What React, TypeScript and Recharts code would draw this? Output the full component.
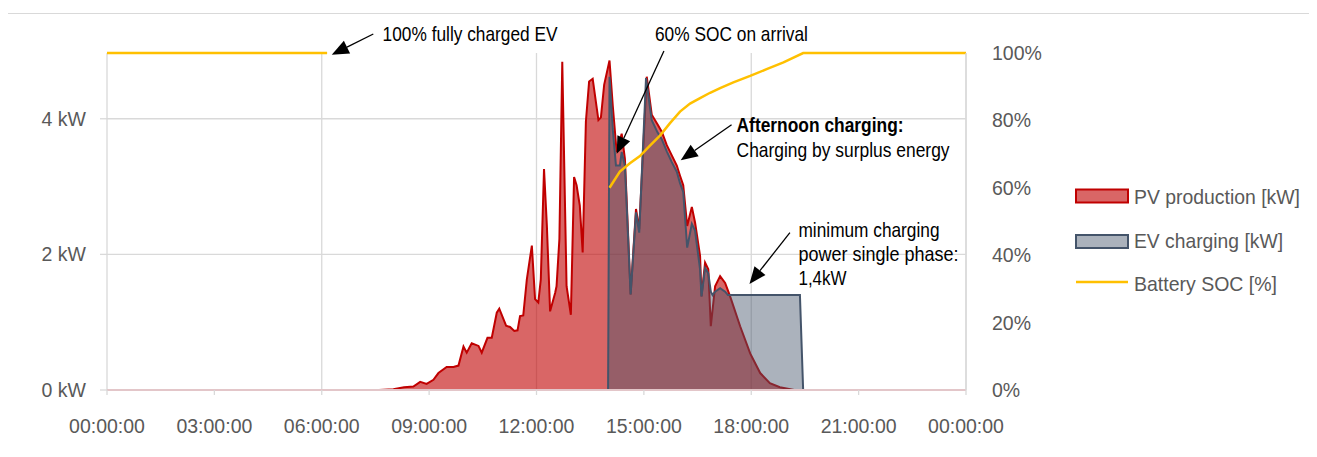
import React from 'react';
import {
  ComposedChart,
  Area,
  Line,
  XAxis,
  YAxis,
  CartesianGrid,
  ReferenceLine,
  ReferenceDot,
  Legend,
} from 'recharts';

// ---- data: [hour of day, value] ----
const pvProduction: [number, number][] = [
  [7.6, 0], [8.0, 0.01], [8.3, 0.04], [8.56, 0.05], [8.75, 0.12], [8.93, 0.09], [9.12, 0.15],
  [9.26, 0.25], [9.49, 0.34], [9.68, 0.34], [9.82, 0.36], [9.96, 0.64], [10.05, 0.55],
  [10.19, 0.69], [10.38, 0.65], [10.47, 0.55], [10.63, 0.77], [10.75, 0.77], [10.89, 1.14],
  [10.96, 1.2], [11.15, 0.95], [11.26, 0.93], [11.38, 0.87], [11.47, 0.88], [11.54, 1.09],
  [11.63, 1.1], [11.73, 1.63], [11.87, 2.13], [11.96, 1.34], [12.05, 1.29], [12.12, 1.63],
  [12.21, 3.26], [12.29, 2.42], [12.38, 1.16], [12.52, 1.43], [12.56, 1.53], [12.64, 2.23],
  [12.72, 4.84], [12.84, 1.53], [12.96, 1.11], [13.05, 3.14], [13.12, 3.02], [13.21, 2.72],
  [13.29, 2.03], [13.38, 3.96], [13.47, 4.55], [13.57, 4.59], [13.73, 3.98], [13.8, 4.02],
  [13.89, 4.5], [14.04, 4.86], [14.13, 4.2], [14.24, 3.51], [14.38, 3.78], [14.47, 3.41],
  [14.63, 1.41], [14.78, 2.67], [14.87, 2.37], [15.08, 4.62], [15.22, 4.06], [15.38, 3.92],
  [15.5, 3.81], [15.64, 3.61], [15.78, 3.46], [15.92, 3.31], [16.01, 3.16], [16.1, 3.02],
  [16.21, 2.42], [16.34, 2.7], [16.43, 2.47], [16.57, 1.98], [16.61, 1.38], [16.71, 1.88],
  [16.8, 1.78], [16.87, 0.94], [16.99, 1.53], [17.13, 1.68], [17.27, 1.58], [17.41, 1.38],
  [17.69, 0.94], [17.97, 0.54], [18.25, 0.25], [18.52, 0.1], [18.8, 0.04], [19.2, 0],
];

const evCharging: [number, number][] = [
  [14.0, 0], [14.04, 4.62], [14.13, 3.85], [14.22, 3.31], [14.33, 3.31], [14.38, 3.51],
  [14.47, 3.31], [14.63, 1.41], [14.78, 2.62], [14.87, 2.32], [15.06, 4.6], [15.22, 3.98],
  [15.38, 3.8], [15.5, 3.7], [15.64, 3.52], [15.78, 3.36], [15.92, 3.22], [16.01, 3.05],
  [16.1, 2.92], [16.21, 2.1], [16.34, 2.45], [16.43, 2.35], [16.57, 1.78], [16.61, 1.38],
  [16.71, 1.8], [16.8, 1.72], [16.87, 1.45], [16.92, 1.4], [16.99, 1.45], [17.13, 1.5],
  [17.27, 1.45], [17.35, 1.4], [19.36, 1.4], [19.45, 0],
];

const socMorning: [number, number][] = [[0, 1], [6.15, 1]];

const socAfternoon: [number, number][] = [
  [14.04, 0.6], [14.33, 0.648], [14.61, 0.673], [14.89, 0.694], [15.17, 0.725],
  [15.45, 0.755], [15.73, 0.792], [16.01, 0.826], [16.29, 0.85], [16.57, 0.866],
  [16.85, 0.882], [17.13, 0.896], [17.5, 0.913], [17.97, 0.932], [18.43, 0.952],
  [18.9, 0.972], [19.45, 1.0], [24, 1.0],
];

const hourTicks = [0, 3, 6, 9, 12, 15, 18, 21, 24];
const gridHours = [0, 6, 12, 18, 24];
const kwTicks = [0, 2, 4];
const socTicks = [0, 0.2, 0.4, 0.6, 0.8, 1];

const seriesNames = ['PV production [kW]', 'EV charging [kW]', 'Battery SOC [%]'];

// annotations (in data units: hour, kW)
const arrows = [
  { from: [7.44, 5.25], to: [6.28, 4.945] },
  { from: [15.56, 5.0], to: [14.24, 3.485] },
  { from: [17.45, 3.913], to: [16.03, 3.388] },
  { from: [19.08, 2.32], to: [17.95, 1.563] },
];

const notes = [
  { at: [7.7, 5.147], lines: [{ text: '100% fully charged EV', w: 175 }] },
  { at: [15.31, 5.143], lines: [{ text: '60% SOC on arrival', w: 153 }] },
  {
    at: [17.59, 3.8],
    lines: [
      { text: 'Afternoon charging:', w: 167, bold: true },
      { text: 'Charging by surplus energy', w: 213 },
    ],
  },
  {
    at: [19.32, 2.261],
    lines: [
      { text: 'minimum charging', w: 141 },
      { text: 'power single phase:', w: 160 },
      { text: '1,4kW', w: 48 },
    ],
  },
];

function buildTable() {
  const rows = new Map<number, any>();
  const add = (arr: [number, number][], key: string) =>
    arr.forEach(([t, v]) => {
      const r = rows.get(t) ?? { t };
      r[key] = v;
      rows.set(t, r);
    });
  add(pvProduction, 'pv');
  add(evCharging, 'ev');
  add(socMorning, 'socA');
  add(socAfternoon, 'socB');
  return [...rows.values()].sort((a, b) => a.t - b.t);
}

const table = buildTable();

const FONT = 'Liberation Sans, Arial, sans-serif';
const AXIS_TEXT = { fill: '#595959', fontSize: 19.5, fontFamily: FONT };
const GRID = '#D9D9D9';
const PV_COLOR = '#C00000';
const EV_COLOR = '#44546A';
const SOC_COLOR = '#FFC000';

const fmtHour = (h: number) => `${String(h % 24).padStart(2, '0')}:00:00`;
const fmtPct = (v: number) => `${Math.round(v * 100)}%`;

const ArrowShape = (p: any) => {
  const { x1, y1, x2, y2 } = p;
  const dx = x2 - x1;
  const dy = y2 - y1;
  const len = Math.hypot(dx, dy) || 1;
  const ux = dx / len;
  const uy = dy / len;
  const hl = 17;
  const hw = 7;
  const bx = x2 - ux * hl;
  const by = y2 - uy * hl;
  return (
    <g>
      <line x1={x1} y1={y1} x2={bx} y2={by} stroke="#000" strokeWidth={1.3} />
      <polygon
        points={`${x2},${y2} ${bx - uy * hw},${by + ux * hw} ${bx + uy * hw},${by - ux * hw}`}
        fill="#000"
      />
    </g>
  );
};

const makeNoteShape = (lines: { text: string; w: number; bold?: boolean }[]) => (p: any) => {
  const { cx, cy } = p;
  return (
    <g>
      {lines.map((l, i) => (
        <text
          key={i}
          x={cx}
          y={cy + i * 24.3}
          fontFamily={FONT}
          fontSize={21}
          fontWeight={l.bold ? 'bold' : 'normal'}
          fill="#000"
          textLength={l.w}
          lengthAdjust="spacingAndGlyphs"
        >
          {l.text}
        </text>
      ))}
    </g>
  );
};

const LegendContent = () => (
  <svg width={250} height={130} style={{ display: 'block', overflow: 'visible' }}>
    <rect x={8} y={11.5} width={52} height={13} fill={PV_COLOR} fillOpacity={0.6} stroke={PV_COLOR} strokeWidth={2} />
    <text x={66} y={26} fontFamily={FONT} fontSize={21} fill="#595959" textLength={166} lengthAdjust="spacingAndGlyphs">
      {seriesNames[0]}
    </text>
    <rect x={8} y={57} width={52} height={13} fill={EV_COLOR} fillOpacity={0.45} stroke={EV_COLOR} strokeWidth={2} />
    <text x={66} y={70.3} fontFamily={FONT} fontSize={21} fill="#595959" textLength={149} lengthAdjust="spacingAndGlyphs">
      {seriesNames[1]}
    </text>
    <line x1={8} y1={104} x2={60} y2={104} stroke={SOC_COLOR} strokeWidth={2.5} />
    <text x={66} y={112.5} fontFamily={FONT} fontSize={21} fill="#595959" textLength={143} lengthAdjust="spacingAndGlyphs">
      {seriesNames[2]}
    </text>
  </svg>
);

export default function App() {
  return (
    <div style={{ position: 'relative', width: 1309, height: 441 }}>
      <style>{`body{overflow:hidden}`}</style>
      <div
        style={{
          position: 'absolute',
          left: -1,
          top: 5,
          width: 1310,
          height: 440,
          borderTop: `1.5px solid ${GRID}`,
          borderLeft: `1.5px solid ${GRID}`,
          boxSizing: 'border-box',
        }}
      />
      <ComposedChart
        width={1309}
        height={441}
        data={table}
        margin={{ top: 45, right: 0, bottom: 0, left: 0 }}
      >
        <CartesianGrid
          yAxisId="left"
          stroke={GRID}
          strokeWidth={1.3}
          verticalValues={gridHours}
          horizontalValues={kwTicks}
        />
        <XAxis
          dataKey="t"
          type="number"
          domain={[0, 24]}
          ticks={hourTicks}
          tickFormatter={fmtHour}
          interval={0}
          height={59}
          tick={AXIS_TEXT}
          tickSize={5}
          tickMargin={24}
          axisLine={{ stroke: '#E3C6C9', strokeWidth: 2 }}
          tickLine={{ stroke: GRID, strokeWidth: 1.3 }}
        />
        <YAxis
          yAxisId="left"
          orientation="left"
          domain={[0, 4.97]}
          ticks={kwTicks}
          tickFormatter={(v: number) => `${v} kW`}
          width={99}
          tick={AXIS_TEXT}
          tickSize={7}
          tickMargin={14}
          axisLine={false}
          tickLine={{ stroke: GRID, strokeWidth: 1.3 }}
        />
        <YAxis
          yAxisId="right"
          orientation="right"
          domain={[0, 1]}
          ticks={socTicks}
          tickFormatter={fmtPct}
          width={351}
          tick={{ ...AXIS_TEXT, textAnchor: 'start' }}
          tickSize={0}
          tickMargin={26}
          axisLine={{ stroke: GRID, strokeWidth: 1.3 }}
          tickLine={false}
        />
        <Area
          yAxisId="left"
          type="linear"
          dataKey="pv"
          name={seriesNames[0]}
          stroke={PV_COLOR}
          strokeWidth={2}
          fill={PV_COLOR}
          fillOpacity={0.6}
          connectNulls
          dot={false}
          activeDot={false}
          isAnimationActive={false}
        />
        <Area
          yAxisId="left"
          type="linear"
          dataKey="ev"
          name={seriesNames[1]}
          stroke={EV_COLOR}
          strokeWidth={2}
          fill={EV_COLOR}
          fillOpacity={0.45}
          connectNulls
          dot={false}
          activeDot={false}
          isAnimationActive={false}
        />
        <Line
          yAxisId="right"
          type="linear"
          dataKey="socA"
          name={seriesNames[2]}
          stroke={SOC_COLOR}
          strokeWidth={2.5}
          connectNulls
          dot={false}
          activeDot={false}
          isAnimationActive={false}
        />
        <Line
          yAxisId="right"
          type="linear"
          dataKey="socB"
          name={seriesNames[2]}
          stroke={SOC_COLOR}
          strokeWidth={2.5}
          connectNulls
          dot={false}
          activeDot={false}
          legendType="none"
          isAnimationActive={false}
        />
        {arrows.map((a, i) => (
          <ReferenceLine
            key={`arrow-${i}`}
            yAxisId="left"
            segment={[
              { x: a.from[0], y: a.from[1] },
              { x: a.to[0], y: a.to[1] },
            ]}
            ifOverflow="visible"
            shape={ArrowShape}
          />
        ))}
        {notes.map((n, i) => (
          <ReferenceDot
            key={`note-${i}`}
            yAxisId="left"
            x={n.at[0]}
            y={n.at[1]}
            ifOverflow="visible"
            shape={makeNoteShape(n.lines)}
          />
        ))}
        <Legend
          layout="vertical"
          align="center"
          verticalAlign="middle"
          wrapperStyle={{ left: 1060, top: 170, width: 250, height: 130 }}
          content={<LegendContent />}
        />
      </ComposedChart>
    </div>
  );
}
